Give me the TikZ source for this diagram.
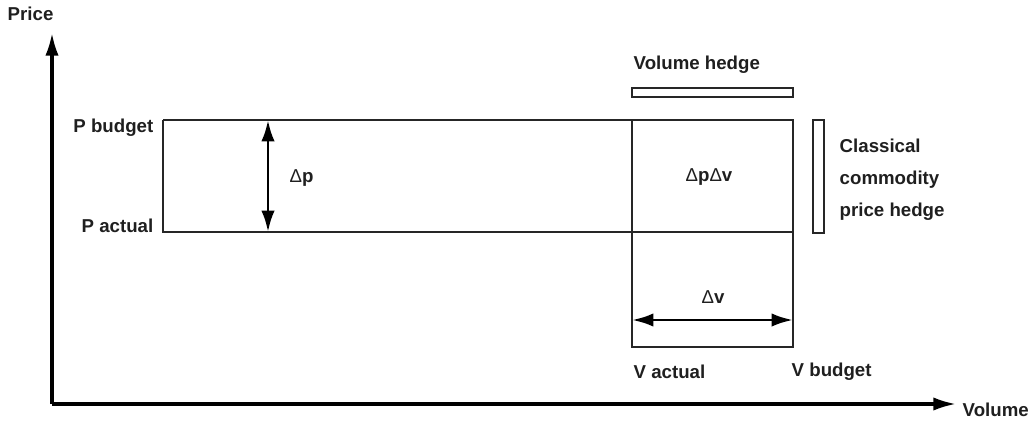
\documentclass[tikz,border=0pt]{standalone}
\usepackage{fontspec}
\setmainfont{Liberation Sans}
\usetikzlibrary{arrows.meta}

\tikzset{every picture/.style={line width=1.1pt}}
\tikzset{
  lbl/.style={inner sep=0.75pt,font=\fontsize{14}{24}\selectfont\bfseries,text=black!88},
  axisline/.style={line width=2.3pt,-{Latex[length=17pt,width=10pt]}},
  dimline/.style={line width=2.2pt,{Latex[length=16pt,width=10pt]}-{Latex[length=16pt,width=10pt]}},
  thinbox/.style={line width=1.1pt,draw=black!85}
}
\newcommand{\dl}{{\mdseries Δ}}

\begin{document}
\begin{tikzpicture}[x=0.75pt,y=0.75pt,yscale=-1,xscale=1]
\path[use as bounding box] (0,0) rectangle (1029,421);

%Corners
\coordinate (origin) at (52,404);
\coordinate (ytip) at (52,33);
\coordinate (xtip) at (956,404);
\coordinate (pbl) at (163,120);
\coordinate (pal) at (163,232);
\coordinate (vab) at (632,120);
\coordinate (vbb) at (793,120);
\coordinate (vaa) at (632,232);
\coordinate (vba) at (793,232);
\coordinate (vabot) at (632,347);
\coordinate (vbbot) at (793,347);
\coordinate (dptop) at (268,120);
\coordinate (dpbot) at (268,232);
\coordinate (dvl) at (632,320);
\coordinate (dvr) at (793,320);

%Shape: Axis 2D
\draw [axisline] (origin) -- (ytip) ;
\draw [axisline] (origin) -- (xtip) ;
%Shape: Rectangle
\draw [thinbox] (pbl) -- (vbb) -- (vbbot) -- (vabot) -- (vab) ;
\draw [thinbox] (pbl) -- (pal) -- (vba) ;
%Shape: Rectangle (volume hedge)
\draw [thinbox] (632,88) rectangle (793,97) ;
%Shape: Rectangle (price hedge)
\draw [thinbox] (813,120) rectangle (824,233) ;
%Straight Lines
\draw [dimline] (dptop) -- (dpbot) ;
\draw [dimline] (dvl) -- (dvr) ;

% Text Node
\node (price) [lbl,anchor=west] at (6,14) {Price};
% Text Node
\node (volume) [lbl,anchor=west] at (961,410) {Volume};
% Text Node
\node (pbudget) [lbl,anchor=east] at (155,128) {P budget};
% Text Node
\node (pactual) [lbl,anchor=east] at (155,226) {P actual};
% Text Node
\node (dp) [lbl,anchor=west] at (288,178) {\dl p};
% Text Node
\node (dpdv) [lbl] at (709,177) {\dl p\dl v};
% Text Node
\node (dv) [lbl] at (713,297) {\dl v};
% Text Node
\node (vactual) [lbl,anchor=west] at (632,372) {V actual};
% Text Node
\node (vbudget) [lbl,anchor=west] at (790,372) {V budget};
% Text Node
\node (vhedge) [lbl,anchor=west] at (632,65) {Volume hedge};
% Text Node
\node (chedge) [lbl,anchor=north west,align=left] at (838,137) {Classical\\commodity\\price hedge};

\end{tikzpicture}
\end{document}
